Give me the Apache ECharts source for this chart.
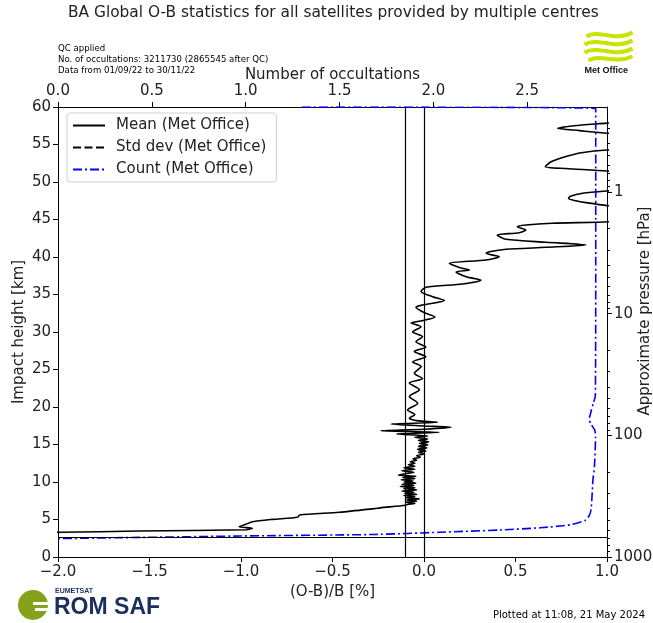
<!DOCTYPE html>
<html>
<head>
<meta charset="utf-8">
<script src="https://cdn.jsdelivr.net/npm/echarts@6/dist/echarts.min.js"></script>
<style>
  html, body { margin: 0; padding: 0; background: #fff; }
  #chart { width: 653px; height: 623px; }
</style>
</head>
<body>
<div id="chart"></div>
<script>
// mean O-B profile (Met Office), height [km] / (O-B)/B [%]
var meanHeight = [60.0, 58.6, 57.85, 57.5, 57.16, 56.85, 56.5, 56.0, 55.0, 54.27, 53.9, 53.4, 52.7, 52.04, 51.8, 51.47, 50.5, 49.5,
    48.8, 48.5, 48.1, 47.8, 47.5, 47.25, 46.85, 46.0, 45.2, 44.7, 44.5, 44.27, 44.04, 43.6, 43.24, 42.93, 42.36, 41.96, 41.6,
    41.29, 41.03, 40.7, 40.5, 40.04, 39.6, 39.16, 38.6, 38.27, 38.0, 37.37, 36.9, 36.4, 35.96, 35.4, 34.7, 34.2, 33.6, 33.3,
    32.6, 32.0, 31.5, 31.2, 30.7, 30.0, 29.4, 28.7, 28.0, 27.4, 26.7, 26.0, 25.4, 24.5, 23.8, 23.2, 22.3, 21.4, 20.5, 19.6,
    19.0, 18.5, 18.18, 17.96, 17.73, 17.47, 17.29, 17.03, 16.84, 16.62, 16.4, 16.13, 15.96, 15.75, 15.55, 15.35, 15.15, 14.95,
    14.75, 14.55, 14.35, 14.15, 13.95, 13.75, 13.5, 13.3, 13.1, 12.9, 12.7, 12.5, 12.3, 12.1, 11.9, 11.7, 11.5, 11.3, 11.1,
    10.9, 10.75, 10.6, 10.45, 10.3, 10.15, 10.0, 9.85, 9.7, 9.55, 9.4, 9.25, 9.1, 8.95, 8.8, 8.65, 8.5, 8.35, 8.2, 8.05, 7.9,
    7.75, 7.6, 7.45, 7.3, 7.15, 7.0, 6.9, 6.55, 6.45, 5.96, 5.6, 5.3, 5.02, 4.71, 4.36, 4.04, 3.83, 3.64, 3.47, 3.29, 3.1];
var meanValue = [1.6, 1.35, 1.0, 0.82, 0.73, 0.85, 1.0, 1.4, 1.6, 1.0, 0.86, 0.776, 0.694, 0.663, 0.776, 1.0, 1.4, 1.4,
    1.0, 0.867, 0.8, 0.79, 0.83, 0.885, 1.0, 1.4, 1.3, 1.01, 0.7, 0.557, 0.51, 0.557, 0.52, 0.4, 0.448, 0.667, 0.885,
    0.667, 0.448, 0.357, 0.339, 0.411, 0.339, 0.138, 0.193, 0.248, 0.175, 0.23, 0.311, 0.21, 0.011, -0.016, 0.047, 0.111, -0.008, -0.044,
    0.0, 0.06, -0.01, -0.07, -0.016, -0.062, -0.008, -0.044, 0.01, -0.053, 0.01, -0.062, -0.016, -0.053, -0.008, -0.08, -0.025, -0.08, -0.034, -0.09,
    -0.05, -0.08, -0.04, 0.074, -0.18, 0.0, 0.148, 0.0, -0.235, 0.084, -0.15, 0.02, -0.05, 0.02, -0.03, 0.025, -0.025, 0.02,
    -0.03, 0.015, -0.035, 0.01, -0.03, 0.0, -0.04, -0.02, -0.06, -0.04, -0.075, -0.05, -0.085, -0.05, -0.11, -0.05, -0.12, -0.055, -0.1,
    -0.14, -0.045, -0.115, -0.05, -0.125, -0.06, -0.11, -0.045, -0.12, -0.055, -0.13, -0.05, -0.11, -0.04, -0.12, -0.055, -0.105, -0.04, -0.11, -0.05, -0.1,
    -0.025, -0.095, -0.04, -0.1, -0.05, -0.09, -0.1, -0.24, -0.27, -0.462, -0.68, -0.69, -0.827, -0.937, -0.973, -1.01, -0.937, -0.97, -1.556, -1.99, -3.0];

// number of occultations (top axis), height [km]
var countHeight = [60.0, 59.8, 40.0, 21.5, 20.5, 19.4, 18.3, 17.6, 16.9, 16.0, 12.0, 10.3, 8.0, 6.3, 5.5, 4.9, 4.3, 3.9, 3.6, 3.3, 3.0, 2.8, 2.45];
var countValue = [1.3, 2.865, 2.865, 2.863, 2.852, 2.84, 2.83, 2.843, 2.86, 2.864, 2.858, 2.85, 2.845, 2.84, 2.83, 2.81, 2.73, 2.57, 2.355, 2.035, 1.68, 0.97, 0.0];

var refLinesX = [-0.1, 0.0];
var refLineHeight = [2.6];

var pressureMajor = [1, 10, 100, 1000];
var pressureMinor = [0.3, 0.4, 0.5, 0.6, 0.7, 0.8, 0.9, 2, 3, 4, 5, 6, 7, 8, 9, 20, 30, 40, 50, 60, 70, 80, 90,
    200, 300, 400, 500, 600, 700, 800, 900];

var meanData = meanHeight.map(function (h, i) { return [meanValue[i], h]; });
var countData = countHeight.map(function (h, i) { return [countValue[i], h]; });

var FONT = 'DejaVu Sans';
var TXT = '#222';

var chart = echarts.init(document.getElementById('chart'));

var axisCommon = {
    axisLine: { show: true, onZero: false, lineStyle: { color: '#000', width: 1 } },
    axisTick: { show: true, length: 5, lineStyle: { color: '#000' } },
    axisLabel: { color: TXT, fontFamily: FONT, fontSize: 15 },
    splitLine: { show: false },
    nameMoveOverlap: false,
    nameTextStyle: { color: TXT, fontFamily: FONT, fontSize: 15 }
};

var gridBox = { left: 58, right: 46, top: 107, bottom: 66, containLabel: false, outerBoundsMode: 'none' };

chart.setOption({
    animation: false,
    title: {
        text: 'BA Global O-B statistics for all satellites provided by multiple centres',
        left: 68,
        top: 5,
        padding: 0,
        textStyle: { fontFamily: FONT, fontSize: 15.4, fontWeight: 'normal', color: TXT }
    },
    grid: [Object.assign({}, gridBox), Object.assign({}, gridBox)],
    legend: {
        orient: 'vertical',
        left: 67,
        top: 113,
        itemWidth: 32,
        itemHeight: 14,
        itemGap: 7,
        padding: [5, 10, 5, 5],
        backgroundColor: 'rgba(255,255,255,0.85)',
        borderColor: '#d0d0d0',
        borderWidth: 1,
        borderRadius: 3,
        itemStyle: { color: 'rgba(0,0,0,0)', borderWidth: 0, opacity: 0 },
        textStyle: { fontFamily: FONT, fontSize: 15, color: TXT, padding: [0, 0, 0, 6] },
        data: ['Mean (Met Office)', 'Std dev (Met Office)', 'Count (Met Office)']
    },
    xAxis: [
        Object.assign({}, axisCommon, {
            type: 'value', position: 'bottom', min: -2, max: 1, interval: 0.5,
            name: '(O-B)/B [%]', nameLocation: 'middle', nameGap: 28,
            axisLabel: Object.assign({}, axisCommon.axisLabel, {
                margin: 8,
                formatter: function (v) { return (v < 0 ? '\u2212' : '') + Math.abs(v).toFixed(1); }
            })
        }),
        Object.assign({}, axisCommon, {
            type: 'value', position: 'top', min: 0, max: 2.925, interval: 0.5,
            name: 'Number of occultations', nameLocation: 'middle', nameGap: 24,
            axisLabel: Object.assign({}, axisCommon.axisLabel, {
                margin: 8, showMaxLabel: false,
                formatter: function (v) { return v.toFixed(1); }
            })
        }),
        { type: 'value', gridIndex: 1, min: 0, max: 1, show: false }
    ],
    yAxis: [
        Object.assign({}, axisCommon, {
            type: 'value', position: 'left', min: 0, max: 60, interval: 5,
            name: 'Impact height [km]', nameLocation: 'middle', nameGap: 31, nameRotate: 90,
            axisLabel: Object.assign({}, axisCommon.axisLabel, { margin: 7 })
        }),
        Object.assign({}, axisCommon, {
            type: 'log', position: 'right', min: 0.2, max: 1000, inverse: true, logBase: 10,
            name: 'Approximate pressure [hPa]', nameLocation: 'middle', nameGap: 31, nameRotate: 90,
            nameTextStyle: { color: TXT, fontFamily: FONT, fontSize: 15, padding: [0, 0, 0, 42] },
            axisTick: { show: true, length: 5, customValues: pressureMajor, lineStyle: { color: '#000' } },
            axisLabel: Object.assign({}, axisCommon.axisLabel, {
                margin: 7, customValues: pressureMajor,
                formatter: function (v) { return String(v); }
            })
        }),
        {
            type: 'log', gridIndex: 1, position: 'right', min: 0.2, max: 1000, inverse: true, logBase: 10,
            axisLine: { show: false, onZero: false },
            axisTick: { show: true, length: 3, customValues: pressureMinor, lineStyle: { color: '#000' } },
            axisLabel: { show: false },
            splitLine: { show: false }
        }
    ],
    series: [
        {
            name: 'Mean (Met Office)',
            type: 'line',
            xAxisIndex: 0, yAxisIndex: 0,
            data: meanData,
            showSymbol: false, symbol: 'none',
            smooth: 0.25,
            clip: true,
            lineStyle: { color: '#000', width: 1.6 },
            itemStyle: { color: '#000' },
            markLine: {
                silent: true, symbol: 'none', label: { show: false },
                lineStyle: { color: '#000', width: 1.2, type: 'solid' },
                data: refLinesX.map(function (v) { return { xAxis: v }; })
                    .concat(refLineHeight.map(function (v) { return { yAxis: v }; }))
            }
        },
        {
            name: 'Std dev (Met Office)',
            type: 'line',
            xAxisIndex: 0, yAxisIndex: 0,
            data: [],
            symbol: 'none',
            lineStyle: { color: '#000', width: 1.6, type: [8, 3.5] },
            itemStyle: { color: '#000' }
        },
        {
            name: 'Count (Met Office)',
            type: 'line',
            xAxisIndex: 1, yAxisIndex: 0,
            data: countData,
            showSymbol: false, symbol: 'none',
            smooth: 0.2,
            clip: true,
            lineStyle: { color: '#0000ff', width: 1.6, type: [9, 3, 2, 3] },
            itemStyle: { color: '#0000ff' }
        }
    ],
    graphic: [
        { type: 'text', left: 58, top: 44, style: { text: 'QC applied', font: '8.6px "DejaVu Sans"', fill: '#000' } },
        { type: 'text', left: 58, top: 55, style: { text: 'No. of occultations: 3211730 (2865545 after QC)', font: '8.6px "DejaVu Sans"', fill: '#000' } },
        { type: 'text', left: 58, top: 66, style: { text: 'Data from 01/09/22 to 30/11/22', font: '8.6px "DejaVu Sans"', fill: '#000' } },
        { type: 'text', right: 8, top: 610, style: { text: 'Plotted at 11:08, 21 May 2024', font: '10px "DejaVu Sans"', fill: '#000' } },
        // Met Office logo
        {
            type: 'group', left: 582, top: 30,
            children: [
                { type: 'bezierCurve', shape: { x1: 2, y1: 6, cpx1: 14, cpy1: -2, cpx2: 30, cpy2: 12, x2: 48, y2: 2 }, style: { stroke: '#c8e400', lineWidth: 4, fill: null } },
                { type: 'bezierCurve', shape: { x1: 0, y1: 14, cpx1: 14, cpy1: 6, cpx2: 30, cpy2: 20, x2: 48, y2: 10 }, style: { stroke: '#c8e400', lineWidth: 4, fill: null } },
                { type: 'bezierCurve', shape: { x1: 0, y1: 22, cpx1: 14, cpy1: 14, cpx2: 30, cpy2: 28, x2: 48, y2: 18 }, style: { stroke: '#c8e400', lineWidth: 4, fill: null } },
                { type: 'bezierCurve', shape: { x1: 4, y1: 30, cpx1: 16, cpy1: 23, cpx2: 30, cpy2: 34, x2: 48, y2: 26 }, style: { stroke: '#c8e400', lineWidth: 4, fill: null } },
                { type: 'text', x: 0, y: 36, style: { text: 'Met Office', font: 'bold 9px "Liberation Sans Narrow", "Liberation Sans"', fill: '#111' } }
            ]
        },
        // ROM SAF logo
        {
            type: 'group', left: 18, top: 588,
            children: [
                { type: 'circle', shape: { cx: 16, cy: 17, r: 15 }, style: { fill: '#86a21c' } },
                { type: 'rect', shape: { x: 16, y: 14, width: 16, height: 3 }, style: { fill: '#fff' } },
                { type: 'rect', shape: { x: 18, y: 20, width: 14, height: 3 }, style: { fill: '#fff' } },
                { type: 'text', x: 38, y: 0, style: { text: 'EUMETSAT', font: 'bold 7px "Liberation Sans"', fill: '#1b2f5e' } },
                { type: 'text', x: 37, y: 8, style: { text: 'ROM SAF', font: 'bold 23px "Liberation Sans Narrow", "Liberation Sans"', fill: '#1b2f5e' } }
            ]
        }
    ]
});

window.addEventListener('resize', function () {
    chart.resize();
});
</script>
</body>
</html>
